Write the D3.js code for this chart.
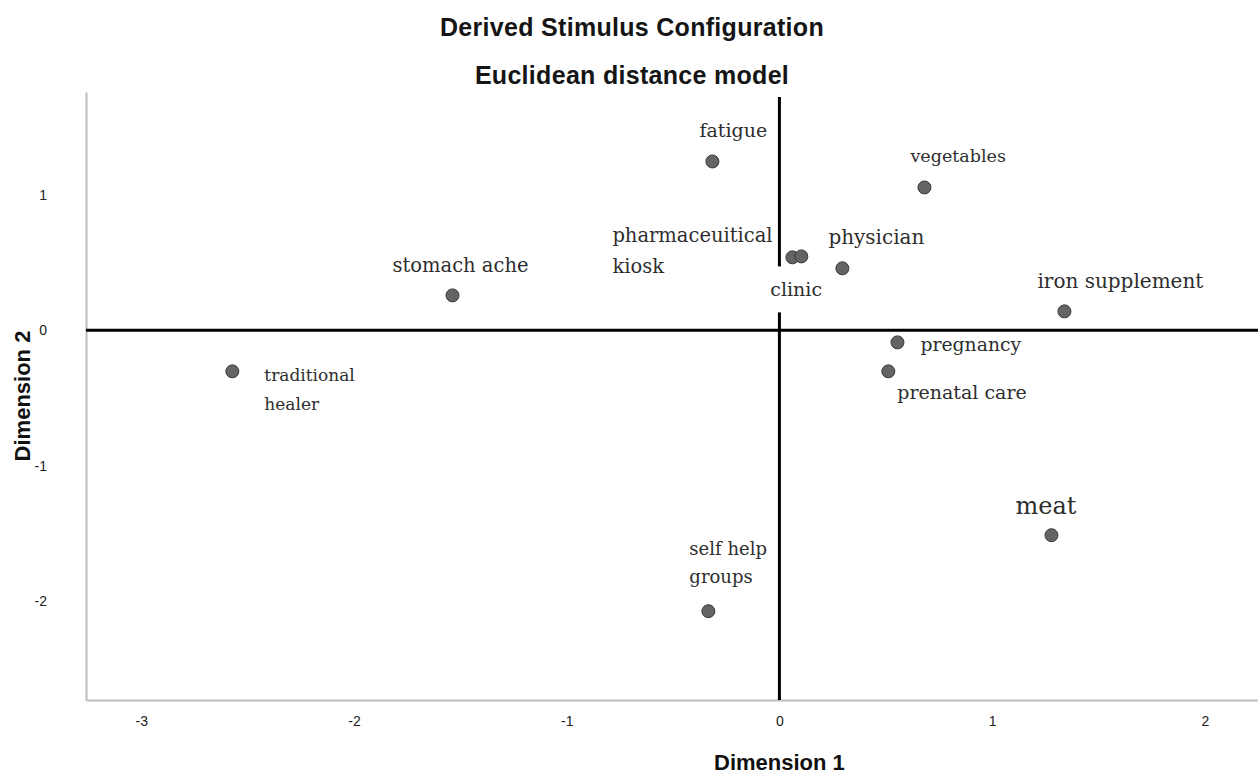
<!DOCTYPE html>
<meta charset="utf-8">
<style>
body { margin: 0; background: #fff; }
.axis text { font-family: "Liberation Sans", Arial, sans-serif; font-size: 14px; fill: #222; }
.axis path { stroke: #bdbdbd; stroke-width: 2px; }
.title { font-family: "Liberation Sans", Arial, sans-serif; font-weight: bold; font-size: 25px; fill: #151515; letter-spacing: 0.3px; }
.axis-label { font-family: "Liberation Sans", Arial, sans-serif; font-weight: bold; font-size: 22px; fill: #111; }
.refline { stroke: #000; stroke-width: 3px; }
.dots circle { fill: #646464; stroke: #3a3a3a; stroke-width: 1px; }
.labels text { font-family: "DejaVu Serif", serif; fill: #2e2e2e; }
</style>
<svg width="1258" height="778"></svg>
<script src="https://d3js.org/d3.v7.min.js"></script>
<script>

// stimuli and their coordinates (Dimension 1, Dimension 2)
var stimuli = ["fatigue", "vegetables", "pharmaceuitical kiosk", "clinic", "physician",
               "stomach ache", "iron supplement", "traditional healer", "pregnancy",
               "prenatal care", "meat", "self help groups"];
var dim1 = [-0.315, 0.682, 0.061, 0.103, 0.296, -1.537, 1.340, -2.572, 0.555, 0.512, 1.279, -0.334];
var dim2 = [1.247, 1.055, 0.539, 0.546, 0.458, 0.258, 0.140, -0.303, -0.089, -0.303, -1.513, -2.074];

var xTicks = [-3, -2, -1, 0, 1, 2];
var yTicks = [-2, -1, 0, 1];

// label placement (pixel offsets from the point, lines, font size)
var labelLayout = {
  "fatigue":               {dx: -13,  dy: -24, size: 19,   lines: ["fatigue"]},
  "vegetables":            {dx: -14,  dy: -25, size: 17.5, lines: ["vegetables"]},
  "pharmaceuitical kiosk": {dx: -180, dy: -15, size: 19.5, lines: ["pharmaceuitical", "kiosk"], gap: 31},
  "clinic":                {dx: -31,  dy: 40,  size: 19,   lines: ["clinic"], pad: 12},
  "physician":             {dx: -14,  dy: -24, size: 20,   lines: ["physician"]},
  "stomach ache":          {dx: -60,  dy: -23, size: 19.5, lines: ["stomach ache"]},
  "iron supplement":       {dx: -27,  dy: -23, size: 20,   lines: ["iron supplement"]},
  "traditional healer":    {dx: 32,   dy: 10,  size: 17,   lines: ["traditional", "healer"], gap: 29},
  "pregnancy":             {dx: 23,   dy: 9,   size: 18.8, lines: ["pregnancy"]},
  "prenatal care":         {dx: 9,    dy: 28,  size: 19,   lines: ["prenatal care"]},
  "meat":                  {dx: -36,  dy: -21, size: 24,   lines: ["meat"]},
  "self help groups":      {dx: -19,  dy: -56, size: 18,   lines: ["self help", "groups"], gap: 28}
};

var points = stimuli.map(function(name, i) {
  return {name: name, x: dim1[i], y: dim2[i]};
});

var svg = d3.select("svg");

var x = d3.scaleLinear().domain([-3.26, 2.25]).range([86, 1258]);
var y = d3.scaleLinear().domain([-2.73, 1.76]).range([700, 92]);

// titles
svg.append("text").attr("class", "title")
    .attr("x", 632).attr("y", 36).attr("text-anchor", "middle")
    .text("Derived Stimulus Configuration");
svg.append("text").attr("class", "title")
    .attr("x", 632).attr("y", 84).attr("text-anchor", "middle")
    .text("Euclidean distance model");

// axes (plain hyphen for negatives, like the original)
var fmt = function(d) { return String(d); };

svg.append("g").attr("class", "axis")
    .attr("transform", "translate(0,700)")
    .call(d3.axisBottom(x).tickValues(xTicks).tickSize(0).tickPadding(16).tickFormat(fmt))
    .call(function(g) { g.selectAll(".tick line").remove(); });

svg.append("g").attr("class", "axis")
    .attr("transform", "translate(86,0)")
    .call(d3.axisLeft(y).tickValues(yTicks).tickSize(0).tickPadding(39).tickFormat(fmt))
    .call(function(g) { g.selectAll(".tick line").remove(); });

svg.append("text").attr("class", "axis-label")
    .attr("x", x(0)).attr("y", 770).attr("text-anchor", "middle")
    .text("Dimension 1");
svg.append("text").attr("class", "axis-label")
    .attr("transform", "translate(30," + 396 + ") rotate(-90)")
    .attr("text-anchor", "middle")
    .text("Dimension 2");

// reference lines through the origin
svg.append("line").attr("class", "refline")
    .attr("x1", x.range()[0]).attr("x2", x.range()[1])
    .attr("y1", y(0)).attr("y2", y(0));
svg.append("line").attr("class", "refline")
    .attr("x1", x(0)).attr("x2", x(0))
    .attr("y1", y.range()[1] + 5).attr("y2", y.range()[0]);

// labels (white boxes behind, like the original)
var labels = svg.append("g").attr("class", "labels")
  .selectAll("g")
  .data(points)
  .enter().append("g");

labels.each(function(d) {
  var L = labelLayout[d.name];
  var g = d3.select(this);
  var rect = g.append("rect").attr("fill", "#fff");
  var t = g.append("text")
      .attr("font-size", L.size)
      .attr("x", x(d.x) + L.dx)
      .attr("y", y(d.y) + L.dy);
  L.lines.forEach(function(line, i) {
    t.append("tspan")
        .attr("x", x(d.x) + L.dx)
        .attr("dy", i === 0 ? 0 : (L.gap || 28))
        .text(line);
  });
  var bb = t.node().getBBox();
  var pad = L.pad || 2;
  rect.attr("x", bb.x - 2).attr("y", bb.y - pad)
      .attr("width", bb.width + 4).attr("height", bb.height + 2 * pad);
});

// points
svg.append("g").attr("class", "dots")
  .selectAll("circle")
  .data(points)
  .enter().append("circle")
    .attr("r", 6.5)
    .attr("cx", function(d) { return x(d.x); })
    .attr("cy", function(d) { return y(d.y); });

</script>
